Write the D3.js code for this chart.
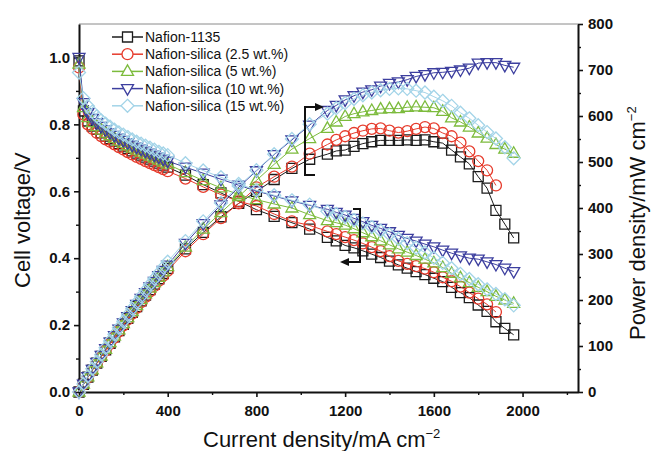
<!DOCTYPE html>
<html>
<head>
<meta charset="utf-8">
<script src="https://cdnjs.cloudflare.com/ajax/libs/d3/7.8.5/d3.min.js"></script>
<style>
body { margin: 0; background: #fff; }
text { font-family: "Liberation Sans", Arial, sans-serif; fill: #111; }
</style>
</head>
<body>
<svg id="chart" width="652" height="451"></svg>
<script>
// current density, mA cm-2
var current = [0, 20, 40, 60, 80, 100, 120, 140, 160, 180, 200, 220, 240, 260, 280, 300, 320, 340, 360, 380, 400,
    480, 560, 640, 720, 800, 880, 960, 1040, 1120,
    1160, 1200, 1240, 1280, 1320, 1360, 1400, 1440, 1480, 1520, 1560, 1600, 1640, 1680, 1720, 1760, 1800, 1840, 1880, 1920, 1960];

// cell voltage, V
var volt1135 = [0.99, 0.84, 0.81, 0.795, 0.785, 0.775, 0.765, 0.757, 0.75, 0.742, 0.735, 0.728, 0.721, 0.714, 0.708, 0.702, 0.696, 0.69, 0.684, 0.678, 0.672,
    0.648, 0.62, 0.595, 0.57, 0.545, 0.525, 0.506, 0.487, 0.462,
    0.452, 0.438, 0.431, 0.422, 0.412, 0.402, 0.391, 0.38, 0.37, 0.36, 0.351, 0.34, 0.33, 0.313, 0.297, 0.282, 0.26, 0.241, 0.21, 0.19, 0.171];
var volt25 = [0.97, 0.83, 0.80, 0.787, 0.775, 0.765, 0.755, 0.748, 0.74, 0.732, 0.725, 0.717, 0.71, 0.703, 0.697, 0.69, 0.684, 0.678, 0.672, 0.666, 0.66,
    0.638, 0.613, 0.59, 0.57, 0.556, 0.532, 0.51, 0.498, 0.48,
    0.472, 0.463, 0.454, 0.444, 0.433, 0.421, 0.406, 0.392, 0.383, 0.376, 0.369, 0.358, 0.343, 0.331, 0.315, 0.297, 0.279, 0.262, 0.239];
var volt5 = [0.98, 0.85, 0.82, 0.805, 0.793, 0.783, 0.774, 0.766, 0.758, 0.75, 0.743, 0.736, 0.729, 0.723, 0.717, 0.711, 0.705, 0.699, 0.693, 0.687, 0.681,
    0.656, 0.632, 0.61, 0.59, 0.575, 0.562, 0.55, 0.53, 0.512,
    0.506, 0.499, 0.488, 0.476, 0.464, 0.452, 0.44, 0.428, 0.418, 0.408, 0.397, 0.386, 0.372, 0.355, 0.341, 0.327, 0.313, 0.3, 0.286, 0.275, 0.265];
var volt10 = [1.0, 0.865, 0.835, 0.818, 0.805, 0.794, 0.784, 0.775, 0.767, 0.759, 0.752, 0.745, 0.738, 0.732, 0.726, 0.72, 0.714, 0.708, 0.702, 0.696, 0.69,
    0.672, 0.654, 0.636, 0.618, 0.601, 0.586, 0.571, 0.558, 0.546,
    0.537, 0.529, 0.519, 0.509, 0.498, 0.489, 0.479, 0.468, 0.459, 0.451, 0.442, 0.434, 0.424, 0.415, 0.407, 0.4, 0.397, 0.389, 0.381, 0.37, 0.36];
var volt15 = [0.955, 0.878, 0.855, 0.838, 0.824, 0.812, 0.802, 0.793, 0.784, 0.776, 0.769, 0.762, 0.755, 0.748, 0.742, 0.736, 0.73, 0.724, 0.718, 0.713, 0.708,
    0.684, 0.662, 0.642, 0.622, 0.603, 0.588, 0.573, 0.56, 0.54,
    0.532, 0.523, 0.514, 0.504, 0.493, 0.482, 0.471, 0.458, 0.445, 0.431, 0.417, 0.401, 0.386, 0.37, 0.353, 0.338, 0.322, 0.307, 0.293, 0.277, 0.259];

// power density, mW cm-2
var power1135 = [0, 16.8, 32.4, 47.7, 62.8, 77.5, 91.8, 106, 120, 133.6, 147, 160.2, 173, 185.6, 198.2, 210.6, 222.7, 234.6, 246.2, 257.6, 268.8,
    311, 347, 381, 410, 436, 462, 486, 506, 517,
    524, 526, 534, 540, 544, 547, 547, 547, 548, 547, 548, 544, 541, 526, 511, 496, 468, 443, 395, 365, 335];
var power25 = [0, 16.6, 32, 47.2, 62, 76.5, 90.6, 104.7, 118.4, 131.8, 145, 157.7, 170.4, 182.8, 195.2, 207, 218.9, 230.5, 241.9, 253.1, 264,
    306, 343, 378, 410, 445, 468, 490, 518, 538,
    548, 556, 563, 568, 572, 573, 568, 564, 567, 572, 576, 573, 563, 556, 542, 523, 502, 482, 449];
var power5 = [0, 17, 32.8, 48.3, 63.4, 78.3, 92.9, 107.2, 121.3, 135, 148.6, 161.9, 175, 188, 200.8, 213.3, 225.6, 237.7, 249.5, 261.1, 272.4,
    315, 354, 390, 425, 460, 495, 528, 551, 573,
    587, 599, 605, 609, 612, 615, 616, 616, 619, 620, 619, 618, 610, 596, 587, 576, 563, 552, 538, 528, 519];
var power10 = [0, 17.3, 33.4, 49.1, 64.4, 79.4, 94.1, 108.5, 122.7, 136.6, 150.4, 163.9, 177.1, 190.3, 203.3, 216, 228.5, 240.7, 252.7, 264.5, 276,
    323, 366, 407, 445, 481, 516, 548, 580, 612,
    623, 635, 644, 652, 657, 665, 671, 674, 679, 686, 690, 694, 695, 697, 700, 704, 715, 716, 716, 710, 706];
var power15 = [0, 17.6, 34.2, 50.3, 65.9, 81.2, 96.2, 111, 125.4, 139.7, 153.8, 167.6, 181.2, 194.5, 207.8, 220.8, 233.6, 246.2, 258.5, 270.9, 283.2,
    328, 371, 411, 448, 482, 517, 550, 582, 605,
    617, 628, 637, 645, 651, 656, 659, 660, 659, 655, 651, 642, 633, 622, 607, 595, 580, 565, 551, 532, 508];

var seriesNames = ['Nafion-1135', 'Nafion-silica (2.5 wt.%)', 'Nafion-silica (5 wt.%)', 'Nafion-silica (10 wt.%)', 'Nafion-silica (15 wt.%)'];
var seriesColors = ['#1c1c1c', '#e63b2c', '#7cbb3c', '#3d3f9f', '#a3d4e8'];
var seriesShapes = ['square', 'circle', 'up', 'down', 'diamond'];

var xTicks = [0, 400, 800, 1200, 1600, 2000];
var xMinor = [200, 600, 1000, 1400, 1800, 2200];
var vTicks = [0, 0.2, 0.4, 0.6, 0.8, 1.0];
var vMinor = [0.1, 0.3, 0.5, 0.7, 0.9];
var pTicks = [0, 100, 200, 300, 400, 500, 600, 700, 800];
var pMinor = [50, 150, 250, 350, 450, 550, 650, 750];

var series = [
    {volt: volt1135, power: power1135},
    {volt: volt25, power: power25},
    {volt: volt5, power: power5},
    {volt: volt10, power: power10},
    {volt: volt15, power: power15}
];
series.forEach(function (s, i) {
    s.name = seriesNames[i];
    s.color = seriesColors[i];
    s.shape = seriesShapes[i];
});

var svg = d3.select('#chart'),
    plotLeft = 79, plotRight = 578, plotTop = 24, plotBottom = 392;

var x = d3.scaleLinear().domain([0, 2250]).range([plotLeft, plotRight]),
    yV = d3.scaleLinear().domain([0, 1.1]).range([plotBottom, plotTop]),
    yP = d3.scaleLinear().domain([0, 800]).range([plotBottom, plotTop]);

function markerPath(type) {
    switch (type) {
        case 'square': return 'M-5,-5H5V5H-5Z';
        case 'circle': return 'M5.5,0A5.5,5.5 0 1,1 -5.5,0A5.5,5.5 0 1,1 5.5,0Z';
        case 'up': return 'M0,-6.5L6,4L-6,4Z';
        case 'down': return 'M0,6.5L6,-4L-6,-4Z';
        case 'diamond': return 'M0,-6.5L6.5,0L0,6.5L-6.5,0Z';
    }
}

// top frame line
svg.append('line')
    .attr('x1', plotLeft).attr('x2', plotRight)
    .attr('y1', plotTop).attr('y2', plotTop)
    .attr('stroke', '#8a8a8a').attr('stroke-width', 1);

function styleAxis(g, labelSize) {
    g.select('.domain').attr('stroke', '#111').attr('stroke-width', 2);
    g.selectAll('.tick line').attr('stroke', '#111').attr('stroke-width', 1.6);
    g.selectAll('.tick text')
        .attr('fill', '#111')
        .style('font-size', labelSize + 'px')
        .style('font-weight', 'bold')
        .style('font-family', '"Liberation Sans", Arial, sans-serif');
}

function addMinor(axisFn, scale, values, transform) {
    svg.append('g')
        .attr('transform', transform)
        .call(axisFn(scale).tickValues(values).tickSize(3).tickSizeOuter(0).tickFormat(''))
        .call(function (g) {
            g.select('.domain').remove();
            g.selectAll('.tick line').attr('stroke', '#111').attr('stroke-width', 1.4);
        });
}

var gx = svg.append('g')
    .attr('transform', 'translate(0,' + plotBottom + ')')
    .call(d3.axisBottom(x).tickValues(xTicks).tickFormat(d3.format('d')).tickSize(5).tickSizeOuter(0).tickPadding(8));
styleAxis(gx, 15);
addMinor(d3.axisBottom, x, xMinor, 'translate(0,' + plotBottom + ')');

var gl = svg.append('g')
    .attr('transform', 'translate(' + plotLeft + ',0)')
    .call(d3.axisLeft(yV).tickValues(vTicks).tickFormat(d3.format('.1f')).tickSize(5).tickSizeOuter(0).tickPadding(4));
styleAxis(gl, 15);
addMinor(d3.axisLeft, yV, vMinor, 'translate(' + plotLeft + ',0)');

var gr = svg.append('g')
    .attr('transform', 'translate(' + plotRight + ',0)')
    .call(d3.axisRight(yP).tickValues(pTicks).tickSize(5).tickSizeOuter(0).tickPadding(5));
styleAxis(gr, 15);
addMinor(d3.axisRight, yP, pMinor, 'translate(' + plotRight + ',0)');

// axis titles
svg.append('text')
    .attr('transform', 'translate(29.5,288) rotate(-90)')
    .style('font-size', '22px')
    .text('Cell voltage/V');

var pt = svg.append('text')
    .attr('transform', 'translate(645,340) rotate(-90)')
    .style('font-size', '22px');
pt.append('tspan').text('Power density/mW cm');
pt.append('tspan').attr('dy', -9).style('font-size', '13px').text('\u22122');

var xt = svg.append('text')
    .attr('x', 203).attr('y', 447)
    .style('font-size', '22px');
xt.append('tspan').text('Current density/mA cm');
xt.append('tspan').attr('dy', -9).style('font-size', '13px').text('\u22122');

// curves
var plot = svg.append('g');

function drawSeries(s) {
    var pts = s.volt.map(function (v, i) {
        return {c: current[i], v: v, p: s.power[i]};
    });
    var g = plot.append('g');

    g.append('path').datum(pts)
        .attr('d', d3.line().x(function (d) { return x(d.c); }).y(function (d) { return yV(d.v); }))
        .attr('fill', 'none').attr('stroke', s.color).attr('stroke-width', 1);
    g.append('path').datum(pts)
        .attr('d', d3.line().x(function (d) { return x(d.c); }).y(function (d) { return yP(d.p); }))
        .attr('fill', 'none').attr('stroke', s.color).attr('stroke-width', 1);

    g.selectAll('.mv').data(pts).enter().append('path')
        .attr('d', markerPath(s.shape))
        .attr('transform', function (d) { return 'translate(' + x(d.c) + ',' + yV(d.v) + ')'; })
        .attr('fill', 'none').attr('stroke', s.color).attr('stroke-width', 1.3);
    g.selectAll('.mp').data(pts).enter().append('path')
        .attr('d', markerPath(s.shape))
        .attr('transform', function (d) { return 'translate(' + x(d.c) + ',' + yP(d.p) + ')'; })
        .attr('fill', 'none').attr('stroke', s.color).attr('stroke-width', 1.3);
}

series.forEach(drawSeries);

// brackets with arrows
svg.append('path')
    .attr('d', 'M315,107H305V175H315')
    .attr('fill', 'none').attr('stroke', '#111').attr('stroke-width', 2);
svg.append('path')
    .attr('d', 'M315,103L324,107L315,111Z')
    .attr('fill', '#111');

svg.append('path')
    .attr('d', 'M353,209H360V262H348')
    .attr('fill', 'none').attr('stroke', '#111').attr('stroke-width', 2);
svg.append('path')
    .attr('d', 'M349,258L340,262L349,266Z')
    .attr('fill', '#111');

// legend
var legend = svg.append('g');
series.forEach(function (s, i) {
    var y = 37 + i * 17.2;
    legend.append('line')
        .attr('x1', 112).attr('x2', 143).attr('y1', y).attr('y2', y)
        .attr('stroke', s.color).attr('stroke-width', 1.5);
    legend.append('path')
        .attr('d', markerPath(s.shape))
        .attr('transform', 'translate(127.5,' + y + ')')
        .attr('fill', '#fff').attr('stroke', s.color).attr('stroke-width', 1.3);
    legend.append('text')
        .attr('x', 145).attr('y', y).attr('dy', '0.36em')
        .style('font-size', '14px')
        .text(s.name);
});
</script>
</body>
</html>
